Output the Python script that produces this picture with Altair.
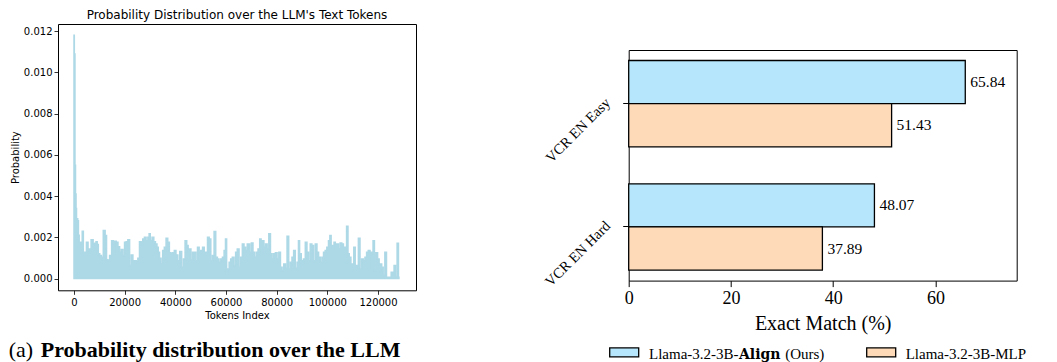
import altair as alt
import pandas as pd

SANS = "DejaVu Sans"
SERIF = "Liberation Serif"

# ---------------- Left panel data ----------------
token_index = [
    0, 250, 500, 700, 900, 1100, 1350, 1600, 1900,
    2200, 2600, 3000, 3500, 3900, 4600, 5200, 5900, 6300, 7200,
    7900, 8500, 8900, 9400, 9800, 10500, 11100, 12000, 12600, 13100,
    13700, 14400, 15300, 15700, 16400, 17000, 17700, 18300, 19000, 19600,
    20300, 20900, 21600, 22300, 22900, 23600, 24200, 24900, 25500, 26200,
    26800, 27500, 28100, 28800, 29500, 29800, 30400, 31200, 31800, 32500,
    33000, 33500, 34000, 34700, 35300, 36000, 36700, 37300, 38000, 38600,
    39300, 39900, 40600, 41400, 42100, 42900, 43500, 44200, 44800, 45300,
    45800, 46500, 47100, 47800, 48400, 49100, 49700, 50400, 51100, 51700,
    52400, 53000, 53700, 54300, 55000, 55600, 56300, 56900, 57600, 58300,
    58900, 59600, 60000, 60500, 61000, 61500, 62200, 62800, 63500, 64100,
    64800, 65500, 66100, 66800, 67400, 68100, 68700, 69100, 69600, 70400,
    70900, 71500, 72300, 73000, 73600, 74100, 74600, 75300, 75900, 76600,
    77200, 77900, 78500, 79200, 79800, 80500, 81200, 81800, 82500, 83100,
    83800, 84400, 85100, 85700, 86400, 87000, 87700, 88400, 88800, 89300,
    90100, 91000, 91600, 92300, 92900, 93600, 94200, 94900, 95600, 96200,
    96900, 97500, 98200, 98800, 99500, 100100, 100800, 101200, 101800, 102400,
    102900, 103400, 104100, 104700, 105400, 106000, 106700, 107300, 107900, 108400,
    108900, 109700, 110200, 110700, 111300, 111900, 112600, 113200, 113900, 114500,
    115200, 115800, 116500, 117200, 117800, 118300, 118900, 119500, 120200, 120700,
    121200, 121700, 122400, 123000, 123700, 124400, 125000, 125400, 126100, 126600,
    127200, 127900, 128256,
]
probability = [
    0.0118, 0.0109, 0.0055, 0.0041, 0.0034, 0.0023, 0.0029, 0.0028, 0.0021,
    0.00176, 0.00176, 0.00128, 0.00230, 0.00128, 0.00128, 0.00176, 0.00136, 0.00144, 0.00189,
    0.00168, 0.00171, 0.00179, 0.00165, 0.00120, 0.00112, 0.00103, 0.00233, 0.00209, 0.00092,
    0.00087, 0.00112, 0.00184, 0.00128, 0.00181, 0.00176, 0.00155, 0.00128, 0.00141, 0.00112,
    0.00176, 0.00179, 0.00189, 0.00063, 0.00115, 0.00087, 0.00087, 0.00082, 0.00099, 0.00179,
    0.00176, 0.00192, 0.00201, 0.00184, 0.00201, 0.00217, 0.00184, 0.00201, 0.00179, 0.00168,
    0.00152, 0.00128, 0.00099, 0.00071, 0.00136, 0.00152, 0.00196, 0.00176, 0.00125, 0.00120,
    0.00125, 0.00136, 0.00115, 0.00087, 0.00131, 0.00055, 0.00095, 0.00184, 0.00160, 0.00128,
    0.00144, 0.00090, 0.00128, 0.00128, 0.00087, 0.00152, 0.00128, 0.00136, 0.00152, 0.00128,
    0.00128, 0.00201, 0.00192, 0.00087, 0.00112, 0.00228, 0.00103, 0.00095, 0.00079, 0.00095,
    0.00103, 0.00136, 0.00192, 0.00023, 0.00047, 0.00079, 0.00095, 0.00103, 0.00063, 0.00128,
    0.00144, 0.00055, 0.00103, 0.00168, 0.00152, 0.00136, 0.00168, 0.00168, 0.00128, 0.00173,
    0.00128, 0.00103, 0.00128, 0.00144, 0.00192, 0.00120, 0.00184, 0.00152, 0.00168, 0.00144,
    0.00217, 0.00120, 0.00095, 0.00120, 0.00125, 0.00095, 0.00128, 0.00055, 0.00039, 0.00071,
    0.00050, 0.00205, 0.00047, 0.00079, 0.00103, 0.00136, 0.00050, 0.00079, 0.00184, 0.00120,
    0.00087, 0.00095, 0.00176, 0.00128, 0.00087, 0.00168, 0.00160, 0.00087, 0.00168, 0.00128,
    0.00103, 0.00079, 0.00103, 0.00128, 0.00136, 0.00152, 0.00184, 0.00209, 0.00160, 0.00144,
    0.00176, 0.00168, 0.00168, 0.00144, 0.00173, 0.00168, 0.00152, 0.00152, 0.00254, 0.00120,
    0.00103, 0.00071, 0.00039, 0.00152, 0.00047, 0.00063, 0.00196, 0.00047, 0.00095, 0.00087,
    0.00103, 0.00128, 0.00136, 0.00128, 0.00047, 0.00184, 0.00039, 0.00125, 0.00095, 0.00039,
    0.00071, 0.00055, 0.00015, 0.00128, 0.00006, 0.00006, 0.00006, 0.00031, 0.00006, 0.00063,
    0.00006, 0.00171, 0.00006,
]
left_x_ticks = [0, 20000, 40000, 60000, 80000, 100000, 120000]
left_y_ticks = [0.0, 0.002, 0.004, 0.006, 0.008, 0.010, 0.012]

# ---------------- Right panel data ----------------
categories = ["VCR EN Easy", "VCR EN Hard"]
series_names = ["Llama-3.2-3B-Align (Ours)", "Llama-3.2-3B-MLP"]
align_scores = [65.84, 48.07]
mlp_scores = [51.43, 37.89]
series_colors = ["#b5e6fb", "#ffdab9"]
right_x_ticks = [0, 20, 40, 60]

# ---------------- Left panel ----------------
LW, LH = 358, 266.3
df_left = pd.DataFrame({"token": token_index, "prob": probability})

left_area = alt.Chart(df_left).mark_area(
    interpolate="step", color="#add8e6", stroke="#add8e6", strokeWidth=1.5
).encode(
    x=alt.X("token:Q",
            scale=alt.Scale(domain=[-6316, 135000], nice=False, zero=False),
            axis=alt.Axis(values=left_x_ticks, format="d", title="Tokens Index",
                          labelFont=SANS, labelFontSize=10, titleFont=SANS,
                          titleFontSize=10, titleFontWeight="normal",
                          tickSize=4, tickWidth=0.8, labelPadding=3, titlePadding=3,
                          labelFlush=False)),
    y=alt.Y("prob:Q",
            scale=alt.Scale(domain=[-0.000568, 0.01235], nice=False, zero=False),
            axis=alt.Axis(values=left_y_ticks, format=".3f", title="Probability",
                          labelFont=SANS, labelFontSize=10, titleFont=SANS,
                          titleFontSize=10, titleFontWeight="normal",
                          tickSize=4, tickWidth=0.8, labelPadding=2, titlePadding=3,
                          labelFlush=False)),
    y2=alt.datum(0),
)

one = pd.DataFrame({"k": [0]})
cap_a = alt.Chart(one).mark_text(
    text="(a)", font=SERIF, fontSize=22, align="left", baseline="alphabetic", color="black"
).encode(x=alt.value(-49.3), y=alt.value(LH + 66.5))
cap_b = alt.Chart(one).mark_text(
    text="Probability distribution over the LLM", font=SERIF, fontSize=22,
    fontWeight="bold", align="left", baseline="alphabetic", color="black"
).encode(x=alt.value(-17.3), y=alt.value(LH + 66.5))

left = alt.layer(left_area, cap_a, cap_b).properties(
    width=LW, height=LH,
    title=alt.TitleParams("Probability Distribution over the LLM's Text Tokens",
                          font=SANS, fontSize=12, fontWeight="normal", offset=2,
                          color="black"),
)

# ---------------- Right panel ----------------
RW, RH = 388, 230.6
df_right = pd.DataFrame({
    "category": categories + categories,
    "series": [series_names[0]] * len(categories) + [series_names[1]] * len(categories),
    "score": align_scores + mlp_scores,
})

base = alt.Chart(df_right).encode(
    x=alt.X("score:Q",
            scale=alt.Scale(domain=[0, 75.9], nice=False, zero=True),
            axis=alt.Axis(values=right_x_ticks, format="d", title="Exact Match (%)",
                          labelFont=SERIF, labelFontSize=18, titleFont=SERIF,
                          titleFontSize=20, titleFontWeight="normal",
                          tickSize=6, tickWidth=1, labelPadding=3, titlePadding=6,
                          labelFlush=False)),
    y=alt.Y("category:N", sort=categories,
            scale=alt.Scale(paddingInner=0.3, paddingOuter=0.085),
            axis=alt.Axis(title=None, labelFont=SERIF, labelFontSize=14.5,
                          labelAngle=315, labelAlign="right",
                          labelBaseline="alphabetic", labelPadding=12,
                          tickSize=6, tickWidth=1)),
    yOffset=alt.YOffset("series:N", sort=series_names,
                        scale=alt.Scale(paddingInner=0, paddingOuter=0)),
)

bars = base.mark_bar(stroke="black", strokeWidth=1.3).encode(
    color=alt.Color("series:N", scale=alt.Scale(domain=series_names, range=series_colors),
                    legend=None)
)
bar_labels = base.mark_text(
    align="left", baseline="middle", dx=5, font=SERIF, fontSize=15.5, color="black"
).encode(text=alt.Text("score:Q", format=".2f"))

LEG_Y = 297.8
sw1 = alt.Chart(one).mark_rect(fill=series_colors[0], stroke="black", strokeWidth=1.3).encode(
    x=alt.value(-19), x2=alt.value(10), y=alt.value(LEG_Y), y2=alt.value(LEG_Y + 9))
sw2 = alt.Chart(one).mark_rect(fill=series_colors[1], stroke="black", strokeWidth=1.3).encode(
    x=alt.value(238), x2=alt.value(267), y=alt.value(LEG_Y), y2=alt.value(LEG_Y + 9))

def leg_text(txt, xpos, bold=False, font=SERIF, size=15):
    kw = dict(text=txt, font=font, fontSize=size, align="left",
              baseline="alphabetic", color="black")
    if bold:
        kw["fontWeight"] = "bold"
    return alt.Chart(one).mark_text(**kw).encode(x=alt.value(xpos), y=alt.value(LEG_Y + 11.5))

t1a = leg_text("Llama-3.2-3B-", 20.3)
t1b = leg_text("Align", 110.3, bold=True, font="DejaVu Serif", size=14)
t1c = leg_text("(Ours)", 156.5)
t2 = leg_text(series_names[1], 277)

right_main = alt.layer(bars, bar_labels, sw1, sw2, t1a, t1b, t1c, t2).properties(
    width=RW, height=RH)

spacer = alt.Chart(one).mark_point(opacity=0).encode(
    x=alt.value(0), y=alt.value(0)
).properties(width=RW, height=26, view=alt.ViewBackground(stroke="transparent", strokeWidth=0))

right = alt.vconcat(spacer, right_main, spacing=0, bounds="flush")

chart = alt.hconcat(left, right, spacing=212.7, bounds="flush").properties(
    padding=0
).configure_view(
    stroke="black", strokeWidth=1
).configure_axis(
    grid=False, domain=False, labelColor="black", titleColor="black", tickColor="black"
)

chart.save("out.html", embed_options={"renderer": "svg", "actions": False})
